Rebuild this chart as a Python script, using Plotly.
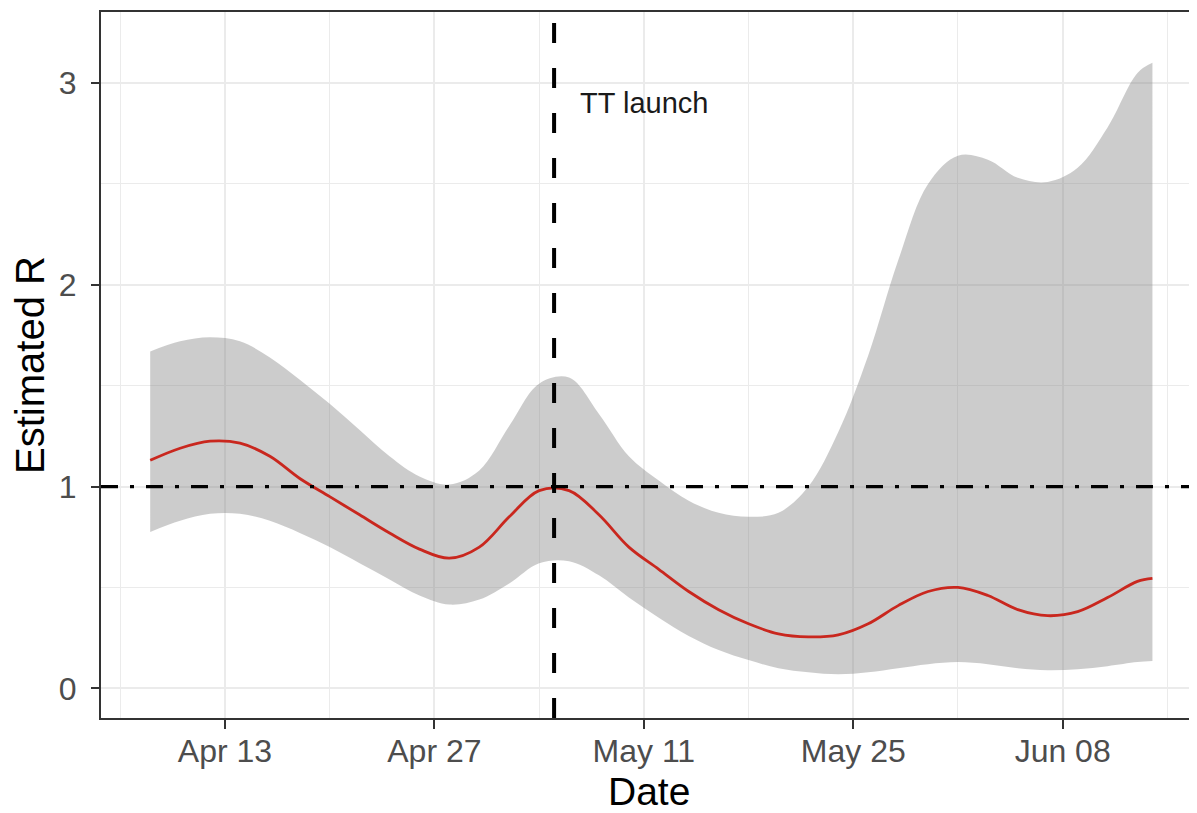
import plotly.graph_objects as go
import pandas as pd

# ---- data ----
dates = ["2020-04-08", "2020-04-10", "2020-04-12", "2020-04-14", "2020-04-16", "2020-04-18",
         "2020-04-20", "2020-04-22", "2020-04-24", "2020-04-26", "2020-04-28", "2020-04-30",
         "2020-05-02", "2020-05-04", "2020-05-06", "2020-05-08", "2020-05-10", "2020-05-12",
         "2020-05-14", "2020-05-16", "2020-05-18", "2020-05-20", "2020-05-22", "2020-05-24",
         "2020-05-26", "2020-05-28", "2020-05-30", "2020-06-01", "2020-06-03", "2020-06-05",
         "2020-06-07", "2020-06-09", "2020-06-11", "2020-06-13", "2020-06-14"]
r_mean = [1.13, 1.19, 1.225, 1.215, 1.15, 1.04, 0.95, 0.86, 0.77, 0.69, 0.645, 0.70,
          0.85, 0.98, 0.98, 0.86, 0.70, 0.59, 0.48, 0.39, 0.32, 0.27, 0.255, 0.265,
          0.32, 0.41, 0.48, 0.50, 0.46, 0.39, 0.36, 0.38, 0.45, 0.53, 0.545]
r_upper = [1.67, 1.72, 1.74, 1.72, 1.64, 1.53, 1.41, 1.28, 1.15, 1.05, 1.01, 1.08,
           1.30, 1.51, 1.54, 1.36, 1.15, 1.03, 0.93, 0.87, 0.85, 0.87, 1.0, 1.27,
           1.65, 2.12, 2.5, 2.64, 2.62, 2.53, 2.51, 2.58, 2.78, 3.05, 3.1]
r_lower = [0.775, 0.83, 0.865, 0.865, 0.83, 0.77, 0.70, 0.62, 0.54, 0.46, 0.415, 0.44,
           0.52, 0.62, 0.63, 0.56, 0.45, 0.35, 0.26, 0.19, 0.14, 0.10, 0.08, 0.07,
           0.08, 0.10, 0.12, 0.13, 0.12, 0.10, 0.09, 0.095, 0.11, 0.13, 0.135]
launch_date = "2020-05-05"
threshold = 1
label_text = "TT launch"
label_date = "2020-05-11"
label_y = 2.9
x_title = "Date"
y_title = "Estimated R"

FONT = "Liberation Sans, Arial, Helvetica, sans-serif"

fig = go.Figure()
fig.add_trace(go.Scatter(x=dates, y=r_upper, mode="lines", line=dict(width=0, shape="spline"),
                         showlegend=False, hoverinfo="skip"))
fig.add_trace(go.Scatter(x=dates, y=r_lower, mode="lines", line=dict(width=0, shape="spline"),
                         fill="tonexty", fillcolor="rgba(127,127,127,0.4)",
                         showlegend=False, hoverinfo="skip"))
fig.add_trace(go.Scatter(x=dates, y=r_mean, mode="lines",
                         line=dict(color="#C9271E", width=2.8, shape="spline"),
                         showlegend=False))

fig.add_hline(y=threshold, line=dict(color="black", width=3.2, dash="17px,12px,4px,12px"), layer="above")
fig.add_vline(x=launch_date, line=dict(color="black", width=4, dash="20px,25px"), layer="above")

fig.add_annotation(x=label_date, y=label_y, text=label_text, showarrow=False,
                   font=dict(family=FONT, size=29, color="#1a1a1a"), xanchor="center", yanchor="middle")

# x-axis title as a paper-anchored annotation
fig.add_annotation(x=0.5, y=0, xref="paper", yref="paper", text=x_title, showarrow=False,
                   xanchor="center", yanchor="middle", yshift=-73,
                   font=dict(family=FONT, size=39, color="black"))

x0 = pd.Timestamp("2020-04-13") - pd.Timedelta(days=8.29)
x1 = pd.Timestamp("2020-06-08") + pd.Timedelta(days=8.98)

# page body adds an 8px offset, so the figure is sized to fit the window
fig.update_layout(
    width=1189, height=805,
    margin=dict(l=93, r=0, t=4, b=95),
    paper_bgcolor="white", plot_bgcolor="white",
    font=dict(family=FONT),
    xaxis=dict(
        range=[x0, x1], type="date",
        tick0="2020-04-13", dtick=14 * 86400000, tickformat="%b %d",
        showgrid=True, gridcolor="#EBEBEB", gridwidth=2,
        minor=dict(dtick=7 * 86400000, tick0="2020-04-06", showgrid=True,
                   gridcolor="#EBEBEB", gridwidth=1, ticklen=0),
        showline=True, linecolor="#333333", linewidth=2, mirror=True,
        ticks="outside", ticklen=9, tickwidth=2, tickcolor="#333333",
        ticklabelstandoff=-5,
        tickfont=dict(family=FONT, size=32, color="#4D4D4D"),
        zeroline=False, automargin=False,
    ),
    yaxis=dict(
        range=[-0.147, 3.352],
        tickvals=[0, 1, 2, 3],
        showgrid=True, gridcolor="#EBEBEB", gridwidth=2,
        minor=dict(tickvals=[0.5, 1.5, 2.5], showgrid=True, gridcolor="#EBEBEB",
                   gridwidth=1, ticklen=0),
        showline=True, linecolor="#333333", linewidth=2, mirror=False,
        ticks="outside", ticklen=8, tickwidth=2, tickcolor="#333333",
        ticklabelstandoff=8,
        tickfont=dict(family=FONT, size=32, color="#4D4D4D"),
        title=dict(text=y_title, font=dict(family=FONT, size=40, color="black"), standoff=6),
        zeroline=False, automargin=False,
    ),
)

fig.write_html("out.html")
